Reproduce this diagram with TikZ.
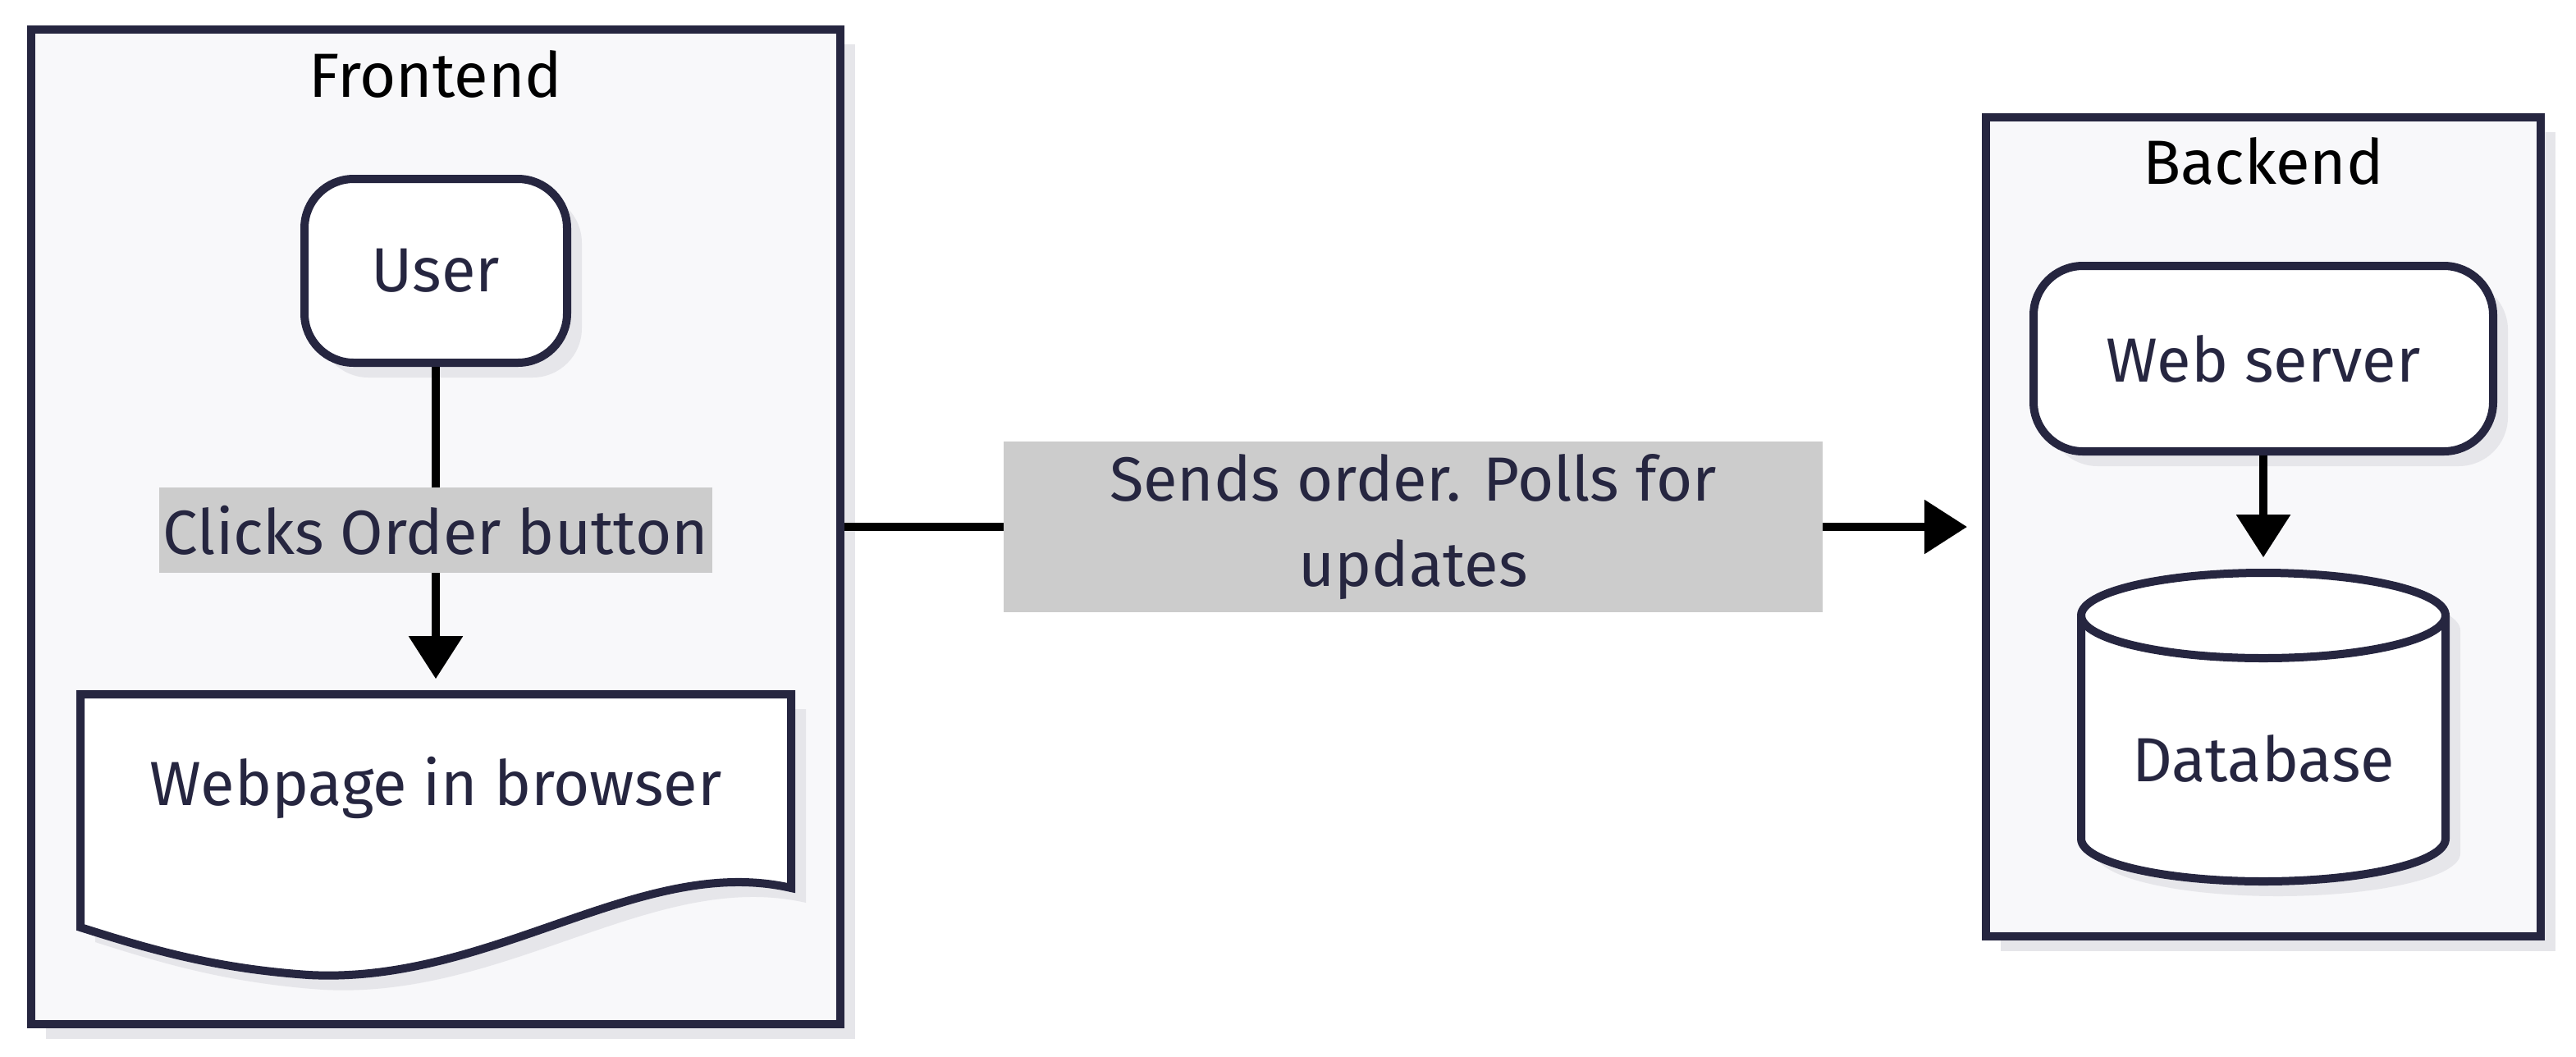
\documentclass[tikz,border=0pt]{standalone}
\usepackage{fontspec}
\setmainfont{Fira Sans}
\usetikzlibrary{arrows.meta,shadows}
\definecolor{ink}{HTML}{262640}
\definecolor{boxfill}{HTML}{F8F8FA}
\definecolor{shadowgray}{HTML}{E6E6EA}
\definecolor{lblfill}{HTML}{CCCCCC}

\begin{document}
\begin{tikzpicture}[x=0.5pt, y=-0.5pt,
        every node/.style={font=\fontsize{19}{26}\selectfont, text=ink},
        boxshadow/.style={drop shadow={shadow xshift=4.5pt, shadow yshift=-4.5pt, fill=shadowgray, opacity=1}},
        group/.style={draw=ink, line width=2.5pt, fill=boxfill, boxshadow},
        grouptitle/.style={text=black},
        block/.style={draw=ink, line width=2.5pt, fill=white, rounded corners=15pt, boxshadow},
        lbl/.style={fill=lblfill, inner sep=0pt, align=center},
        arrow/.style={line width=2.3pt, -{Triangle[width=16pt,length=13pt]}, shorten >=4.5pt}
    ]
            \useasboundingbox ( 0, 0 ) rectangle ( 1569.5, 643.5 );

            % группы
            \node [group, minimum width=246.5pt, minimum height=303pt] (front) at ( 265.5, 321 ) {};
            \node [grouptitle] (fronttitle) at ( 265.5, 45 ) {Frontend};
            \node [group, minimum width=169pt, minimum height=249.5pt] (back) at ( 1379, 321 ) {};
            \node [grouptitle] (backtitle) at ( 1379, 98 ) {Backend};

            % пользователь
            \node [block, minimum width=80pt, minimum height=56pt] (user) at ( 265.5, 165 ) {User};

            % лист
            \fill [shadowgray, shift={(4.5pt,-4.5pt)}] ( 49, 423 ) -- ( 482, 423 ) -- ( 482, 541 )
                .. controls ( 390, 520 ) and ( 300, 600 ) .. ( 188, 594 )
                .. controls ( 130, 590 ) and ( 90, 578 ) .. ( 49, 565 ) -- cycle;
            \draw [draw=ink, line width=2.5pt, fill=white] ( 49, 423 ) -- ( 482, 423 ) -- ( 482, 541 )
                .. controls ( 390, 520 ) and ( 300, 600 ) .. ( 188, 594 )
                .. controls ( 130, 590 ) and ( 90, 578 ) .. ( 49, 565 ) -- cycle;
            \node [minimum width=216.5pt, minimum height=71pt, inner sep=0pt] (page) at ( 265.5, 494 ) {};
            \node (pagetext) at ( 265.5, 480 ) {Webpage in browser};

            % сервер
            \node [block, minimum width=140pt, minimum height=56.5pt] (web) at ( 1379, 218.5 ) {Web server};

            % база
            \fill [shadowgray, shift={(4.5pt,-4.5pt)}] ( 1268, 375 ) -- ( 1268, 511 )
                arc [start angle=180, end angle=360, x radius=55.5pt, y radius=13pt] -- ( 1490, 375 )
                arc [start angle=0, end angle=180, x radius=55.5pt, y radius=13pt] -- cycle;
            \draw [draw=ink, line width=2.5pt, fill=white] ( 1268, 375 ) -- ( 1268, 511 )
                arc [start angle=180, end angle=360, x radius=55.5pt, y radius=13pt] -- ( 1490, 375 )
                arc [start angle=0, end angle=180, x radius=55.5pt, y radius=13pt] -- cycle;
            \draw [draw=ink, line width=2.5pt] ( 1268, 375 )
                arc [start angle=180, end angle=360, x radius=55.5pt, y radius=13pt];
            \node [minimum width=111pt, minimum height=94pt, inner sep=0pt] (db) at ( 1379, 443 ) {};
            \node (dbtext) at ( 1379, 462 ) {Database};

            % стрелки
            \draw [arrow] (user) -- node [lbl, minimum width=168.5pt, minimum height=26pt] (clicks) {Clicks Order button} (page);
            \draw [arrow] (front) -- node [lbl, minimum width=249.5pt, minimum height=52pt] (sends) {Sends order. Polls for\\updates} (back);
            \draw [arrow] (web) -- (db);
        \end{tikzpicture}
\end{document}
